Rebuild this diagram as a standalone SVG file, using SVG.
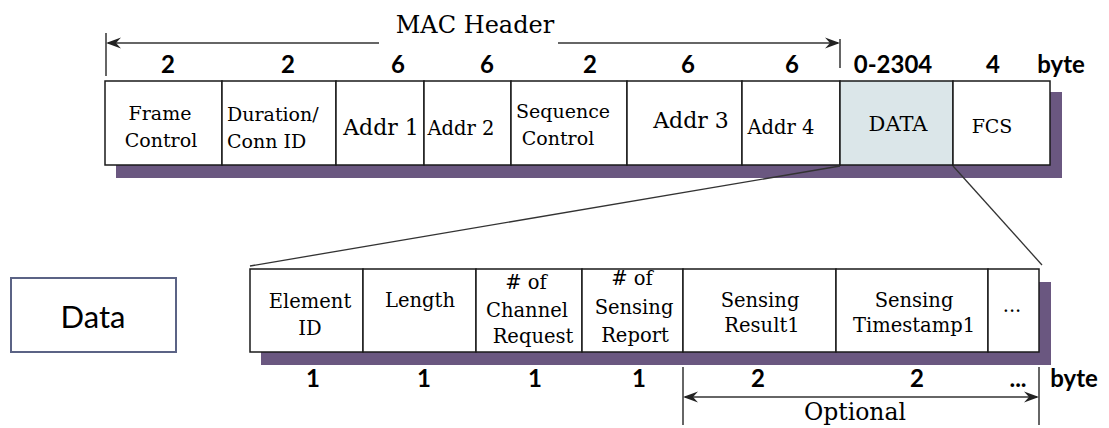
<svg xmlns="http://www.w3.org/2000/svg" width="1109" height="428" viewBox="0 0 1109 428">
  <style>
    .cell { fill: #ffffff; stroke: #1a1a1a; stroke-width: 1.5; }
    .data { fill: #dbe6e9; stroke: #1a1a1a; stroke-width: 1.5; }
    .shadow { fill: #6a5780; }
    .lbl { font-family: "DejaVu Serif", "Liberation Serif", serif; fill: #000; text-anchor: middle; }
    .num { font-family: Lato, "Liberation Sans", sans-serif; font-weight: bold; font-size: 24px; fill: #000; text-anchor: middle; }
    .line { stroke: #333; stroke-width: 1.5; fill: none; }
    .head { fill: #222; }
  </style>

  <!-- MAC header span -->
  <g id="mac-header-span">
    <text class="lbl" x="475" y="33" font-size="24">MAC Header</text>
    <line class="line" x1="106" y1="33" x2="106" y2="76"/>
    <line class="line" x1="840" y1="39" x2="840" y2="68"/>
    <line class="line" x1="108" y1="43" x2="379" y2="43"/>
    <line class="line" x1="558" y1="43" x2="838" y2="43"/>
    <path class="head" d="M106,43 L121,37.5 L116,43 L121,48.5 Z"/>
    <path class="head" d="M840,43 L825,37.5 L830,43 L825,48.5 Z"/>
  </g>

  <!-- field sizes, MAC frame -->
  <g id="frame-sizes">
    <text class="num" x="168" y="73">2</text>
    <text class="num" x="288" y="73">2</text>
    <text class="num" x="398" y="73">6</text>
    <text class="num" x="487" y="73">6</text>
    <text class="num" x="590" y="73">2</text>
    <text class="num" x="688" y="73">6</text>
    <text class="num" x="792" y="73">6</text>
    <text class="num" x="893" y="73">0-2304</text>
    <text class="num" x="993" y="73">4</text>
    <text class="num" x="1061" y="73">byte</text>
  </g>

  <!-- MAC frame -->
  <g id="mac-frame">
    <rect class="shadow" x="116" y="92" width="946" height="86"/>
    <g id="f-frame-control">
      <rect class="cell" x="105" y="81" width="117" height="84"/>
      <text class="lbl" x="160" y="120" font-size="19">Frame</text>
      <text class="lbl" x="161" y="147" font-size="19">Control</text>
    </g>
    <g id="f-duration">
      <rect class="cell" x="222" y="81" width="114" height="84"/>
      <text class="lbl" x="227" y="121" font-size="19" style="text-anchor:start">Duration/</text>
      <text class="lbl" x="227" y="148" font-size="19" style="text-anchor:start">Conn ID</text>
    </g>
    <g id="f-addr1">
      <rect class="cell" x="336" y="81" width="88" height="84"/>
      <text class="lbl" x="381" y="135" font-size="22">Addr 1</text>
    </g>
    <g id="f-addr2">
      <rect class="cell" x="424" y="81" width="87" height="84"/>
      <text class="lbl" x="461" y="135" font-size="19.5">Addr 2</text>
    </g>
    <g id="f-sequence">
      <rect class="cell" x="511" y="81" width="116" height="84"/>
      <text class="lbl" x="563" y="118" font-size="19">Sequence</text>
      <text class="lbl" x="558" y="145" font-size="19">Control</text>
    </g>
    <g id="f-addr3">
      <rect class="cell" x="627" y="81" width="115" height="84"/>
      <text class="lbl" x="691" y="128" font-size="22">Addr 3</text>
    </g>
    <g id="f-addr4">
      <rect class="cell" x="742" y="81" width="98" height="84"/>
      <text class="lbl" x="781" y="134" font-size="19.5">Addr 4</text>
    </g>
    <g id="f-data">
      <rect class="data" x="840" y="81" width="113" height="84"/>
      <text class="lbl" x="898" y="131" font-size="21">DATA</text>
    </g>
    <g id="f-fcs">
      <rect class="cell" x="953" y="81" width="97" height="84"/>
      <text class="lbl" x="992" y="133" font-size="19">FCS</text>
    </g>
  </g>

  <!-- expansion lines from DATA to its element layout -->
  <g id="connectors">
    <line stroke="#333" stroke-width="1.3" x1="840" y1="166" x2="250" y2="266"/>
    <line stroke="#333" stroke-width="1.3" x1="953" y1="166" x2="1042" y2="265"/>
  </g>

  <!-- caption box -->
  <g id="data-caption">
    <rect x="11" y="278" width="165" height="74" fill="#fff" stroke="#5b6385" stroke-width="2"/>
    <text x="93" y="328" font-family="Lato, 'Liberation Sans', sans-serif" font-size="31" fill="#000" text-anchor="middle">Data</text>
  </g>

  <!-- element layout -->
  <g id="element">
    <rect class="shadow" x="261" y="282" width="790" height="83"/>
    <g id="e-element-id">
      <rect class="cell" x="250" y="269" width="113" height="83"/>
      <text class="lbl" x="310" y="308" font-size="19.5">Element</text>
      <text class="lbl" x="310" y="335" font-size="19.5">ID</text>
    </g>
    <g id="e-length">
      <rect class="cell" x="363" y="269" width="113" height="83"/>
      <text class="lbl" x="420" y="307" font-size="19.5">Length</text>
    </g>
    <g id="e-channel-request">
      <rect class="cell" x="476" y="269" width="106" height="83"/>
      <text class="lbl" x="526" y="289" font-size="19.5"># of</text>
      <text class="lbl" x="527" y="317" font-size="19.5">Channel</text>
      <text class="lbl" x="533" y="343" font-size="19.5">Request</text>
    </g>
    <g id="e-sensing-report">
      <rect class="cell" x="582" y="269" width="101" height="83"/>
      <text class="lbl" x="632" y="285" font-size="19.5"># of</text>
      <text class="lbl" x="634" y="314" font-size="19.5">Sensing</text>
      <text class="lbl" x="635" y="342" font-size="19.5">Report</text>
    </g>
    <g id="e-sensing-result">
      <rect class="cell" x="683" y="269" width="153" height="83"/>
      <text class="lbl" x="760" y="307" font-size="19.5">Sensing</text>
      <text class="lbl" x="762" y="332" font-size="19.5">Result1</text>
    </g>
    <g id="e-sensing-timestamp">
      <rect class="cell" x="836" y="269" width="152" height="83"/>
      <text class="lbl" x="914" y="307" font-size="19.5">Sensing</text>
      <text class="lbl" x="914" y="332" font-size="19.5">Timestamp1</text>
    </g>
    <g id="e-more">
      <rect class="cell" x="988" y="269" width="51" height="83"/>
      <text class="lbl" x="1012" y="312" font-size="19.5">...</text>
    </g>
  </g>

  <!-- field sizes, element -->
  <g id="element-sizes">
    <text class="num" x="313" y="387">1</text>
    <text class="num" x="424" y="387">1</text>
    <text class="num" x="535" y="387">1</text>
    <text class="num" x="639" y="387">1</text>
    <text class="num" x="758" y="387">2</text>
    <text class="num" x="917" y="387">2</text>
    <text class="num" x="1018" y="387">...</text>
    <text class="num" x="1074" y="387">byte</text>
  </g>

  <!-- optional span -->
  <g id="optional-span">
    <line class="line" x1="683" y1="367" x2="683" y2="425"/>
    <line class="line" x1="1039" y1="367" x2="1039" y2="425"/>
    <line class="line" x1="685" y1="397" x2="1037" y2="397"/>
    <path class="head" d="M683,397 L698,391.5 L693,397 L698,402.5 Z"/>
    <path class="head" d="M1039,397 L1024,391.5 L1029,397 L1024,402.5 Z"/>
    <text class="lbl" x="855" y="420" font-size="23.5">Optional</text>
  </g>
</svg>
